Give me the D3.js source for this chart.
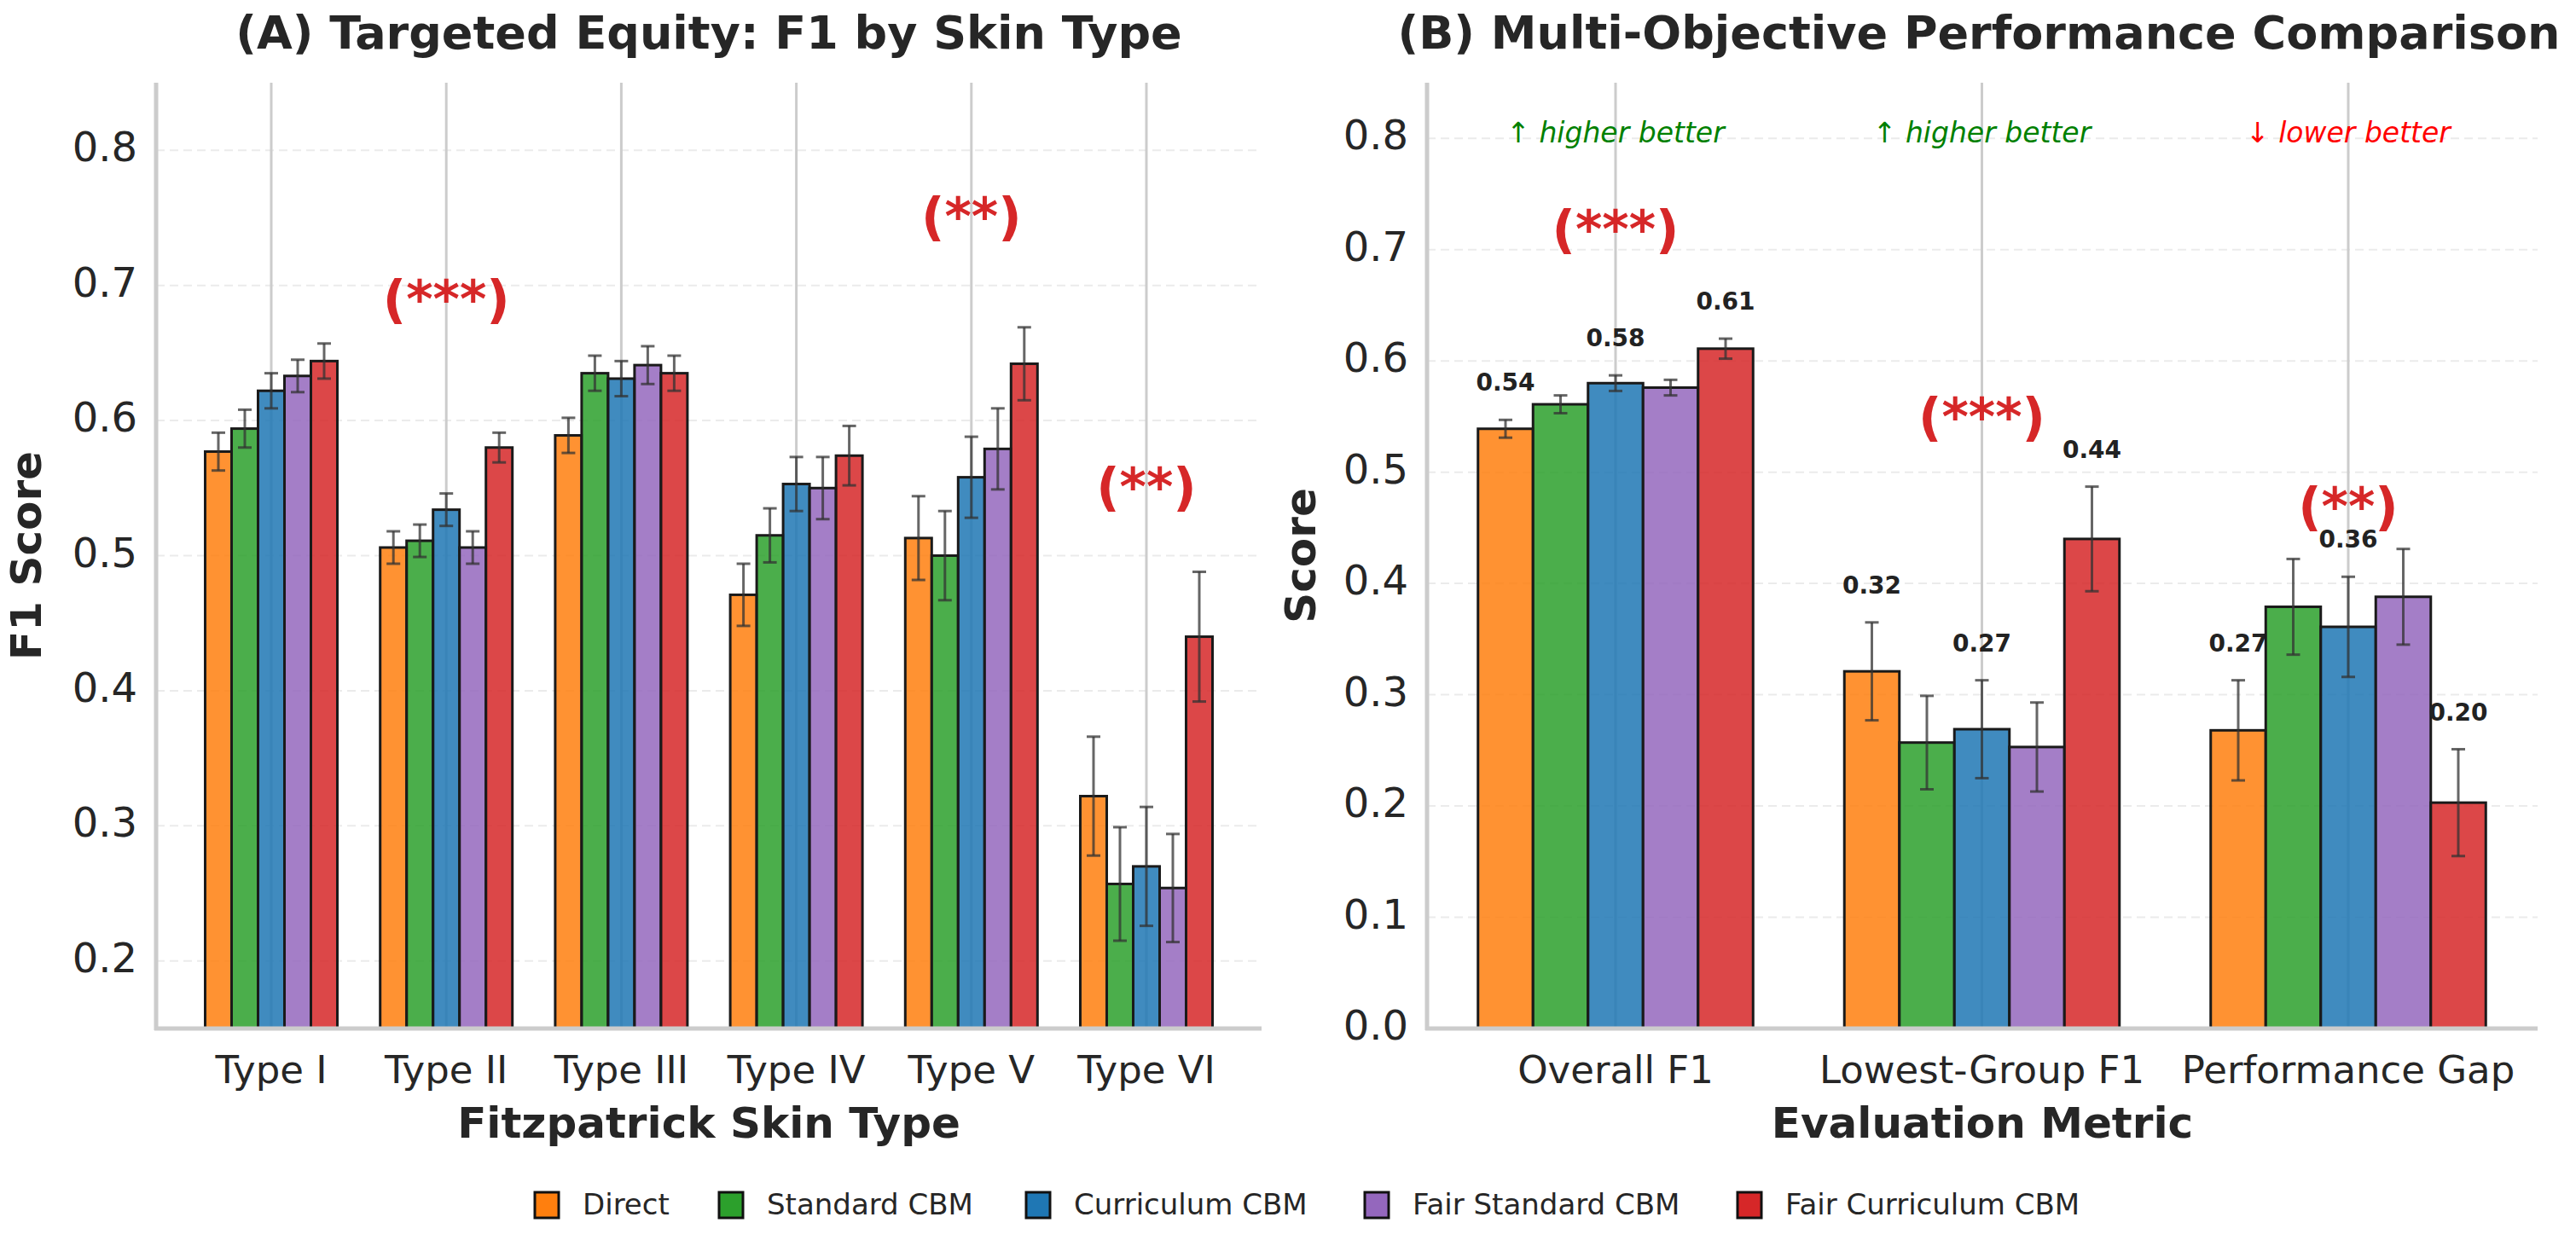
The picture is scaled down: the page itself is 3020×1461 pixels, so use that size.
<!DOCTYPE html>
<html><head><meta charset="utf-8">
<script src="https://cdn.jsdelivr.net/npm/d3@7"></script>
<style>body{margin:0;background:#fff}text{font-family:"DejaVu Sans",sans-serif}</style>
</head><body><svg id="c" width="3020" height="1461"></svg>
<script>
const methods=["Direct","Standard CBM","Curriculum CBM","Fair Standard CBM","Fair Curriculum CBM"];
const colors=["#ff7f0e","#2ca02c","#1f77b4","#9467bd","#d62728"];
const skinTypes=["Type I","Type II","Type III","Type IV","Type V","Type VI"];
// per skin type, per method
const f1Skin=[[0.577,0.594,0.622,0.633,0.644],[0.506,0.511,0.534,0.506,0.580],[0.589,0.635,0.631,0.641,0.635],[0.471,0.515,0.553,0.550,0.574],[0.513,0.500,0.558,0.579,0.642],[0.322,0.257,0.270,0.254,0.440]];
const errSkin=[[0.014,0.014,0.013,0.012,0.013],[0.012,0.012,0.012,0.012,0.011],[0.013,0.013,0.013,0.014,0.013],[0.023,0.020,0.020,0.023,0.022],[0.031,0.033,0.030,0.030,0.027],[0.044,0.042,0.044,0.040,0.048]];
const sigSkin=["","(***)","","","(**)","(**)"];
const sigSkinY=[0,0.687,0,0,0.748,0.548];
const metrics=["Overall F1","Lowest-Group F1","Performance Gap"];
const metricVals=[[0.539,0.561,0.580,0.576,0.611],[0.321,0.257,0.269,0.253,0.440],[0.268,0.379,0.361,0.388,0.203]];
const metricErr=[[0.008,0.008,0.007,0.007,0.009],[0.044,0.042,0.044,0.040,0.047],[0.045,0.043,0.045,0.043,0.048]];
const metricLabels=[["0.54","0.58","0.61"],["0.32","0.27","0.44"],["0.27","0.36","0.20"]];
const sigMetric=["(***)","(***)","(**)"];
const sigMetricY=[0.715,0.546,0.466];
const directionText=["↑ higher better","↑ higher better","↓ lower better"];
const directionColor=["green","green","red"];
const yTicksA=[0.2,0.3,0.4,0.5,0.6,0.7,0.8];
const yTicksB=[0,0.1,0.2,0.3,0.4,0.5,0.6,0.7,0.8];

const svg=d3.select("#c");
function panel(o){
  const g=svg.append("g");
  const x=d3.scalePoint().domain(o.cats).range([o.c0,o.c1]);
  const y=d3.scaleLinear().domain(o.yd).range([1206,97]);
  const bw=o.bw;
  g.selectAll(".hg").data(o.ticks).join("line").attr("x1",o.x0).attr("x2",o.x1)
   .attr("y1",d=>y(d)).attr("y2",d=>y(d)).attr("stroke","#ebebeb").attr("stroke-width",2).attr("stroke-dasharray","10,6");
  g.selectAll(".vg").data(o.cats).join("line").attr("x1",d=>x(d)).attr("x2",d=>x(d))
   .attr("y1",97).attr("y2",1206).attr("stroke","#cccccc").attr("stroke-width",3);
  o.cats.forEach((c,i)=>{
    o.vals[i].forEach((v,j)=>{
      const cx=x(c)+(j-2)*bw;
      g.append("rect").attr("x",cx-bw/2).attr("width",bw).attr("y",y(v)).attr("height",y(o.yd[0])-y(v))
       .attr("fill",colors[j]).attr("fill-opacity",0.85).attr("stroke","#1a1a1a").attr("stroke-width",3);
      const e=o.errs[i][j];
      const eg=g.append("g").attr("stroke","#333").attr("stroke-opacity",0.75).attr("stroke-width",3);
      eg.append("line").attr("x1",cx).attr("x2",cx).attr("y1",y(v-e)).attr("y2",y(v+e));
      [v-e,v+e].forEach(t=>eg.append("line").attr("x1",cx-8).attr("x2",cx+8).attr("y1",y(t)).attr("y2",y(t)));
      if(o.labels && j%2===0){
        g.append("text").attr("x",cx).attr("y",y(v+e)-34).attr("text-anchor","middle")
         .attr("font-size",28).attr("font-weight","bold").attr("fill","#222").text(o.labels[i][j/2]);
      }
    });
    if(o.sig[i]) g.append("text").attr("x",x(c)).attr("y",y(o.sigY[i])).attr("text-anchor","middle")
      .attr("dominant-baseline","middle").attr("font-size",60).attr("font-weight","bold").attr("fill","#d62728").text(o.sig[i]);
    if(o.dir) g.append("text").attr("x",x(c)).attr("y",y(0.8)-5).attr("text-anchor","middle").attr("dominant-baseline","middle")
      .attr("font-size",33).attr("font-style","italic").attr("fill",directionColor[i]).text(o.dir[i]);
  });
  g.append("line").attr("x1",o.x0).attr("x2",o.x0).attr("y1",97).attr("y2",1208).attr("stroke","#cccccc").attr("stroke-width",5);
  g.append("line").attr("x1",o.x0-2).attr("x2",o.x1).attr("y1",1206).attr("y2",1206).attr("stroke","#cccccc").attr("stroke-width",5);
  g.selectAll(".yt").data(o.ticks).join("text").attr("x",o.x0-22).attr("y",d=>y(d)).attr("text-anchor","end")
   .attr("dominant-baseline","middle").attr("font-size",48).attr("fill","#262626").text(d=>d.toFixed(1));
  g.selectAll(".xt").data(o.cats).join("text").attr("x",d=>x(d)).attr("y",1258).attr("text-anchor","middle")
   .attr("dominant-baseline","middle").attr("font-size",45).attr("fill","#262626").text(d=>d);
  g.append("text").attr("x",(o.x0+o.x1)/2).attr("y",1320).attr("text-anchor","middle").attr("dominant-baseline","middle")
   .attr("font-size",50).attr("font-weight","bold").attr("fill","#262626").text(o.xl);
  g.append("text").attr("transform",`translate(${o.ylx},${(97+1206)/2}) rotate(-90)`).attr("text-anchor","middle")
   .attr("dominant-baseline","middle").attr("font-size",50).attr("font-weight","bold").attr("fill","#262626").text(o.yl);
  g.append("text").attr("x",o.tx).attr("y",42).attr("text-anchor","middle").attr("dominant-baseline","middle")
   .attr("font-size",54).attr("font-weight","bold").attr("fill","#262626").text(o.title);
}
panel({cats:skinTypes,c0:318,c1:1344,bw:31,x0:183,x1:1479,yd:[0.15,0.85],ticks:yTicksA,vals:f1Skin,errs:errSkin,
  sig:sigSkin,sigY:sigSkinY,xl:"Fitzpatrick Skin Type",yl:"F1 Score",ylx:34,tx:831,title:"(A) Targeted Equity: F1 by Skin Type"});
panel({cats:metrics,c0:1894,c1:2753,bw:64.5,x0:1673,x1:2975,yd:[0,0.85],ticks:yTicksB,vals:metricVals,errs:metricErr,
  labels:metricLabels,sig:sigMetric,sigY:sigMetricY,dir:directionText,xl:"Evaluation Metric",yl:"Score",ylx:1528,tx:2320,
  title:"(B) Multi-Objective Performance Comparison"});
const legX=[627,843,1203,1600,2037];
const lg=svg.append("g");
methods.forEach((m,i)=>{
  lg.append("rect").attr("x",legX[i]).attr("y",1398).attr("width",28).attr("height",30).attr("fill",colors[i]).attr("stroke","#111").attr("stroke-width",3);
  lg.append("text").attr("x",legX[i]+56).attr("y",1414).attr("dominant-baseline","middle").attr("font-size",34).attr("fill","#262626").text(m);
});
</script></body></html>
